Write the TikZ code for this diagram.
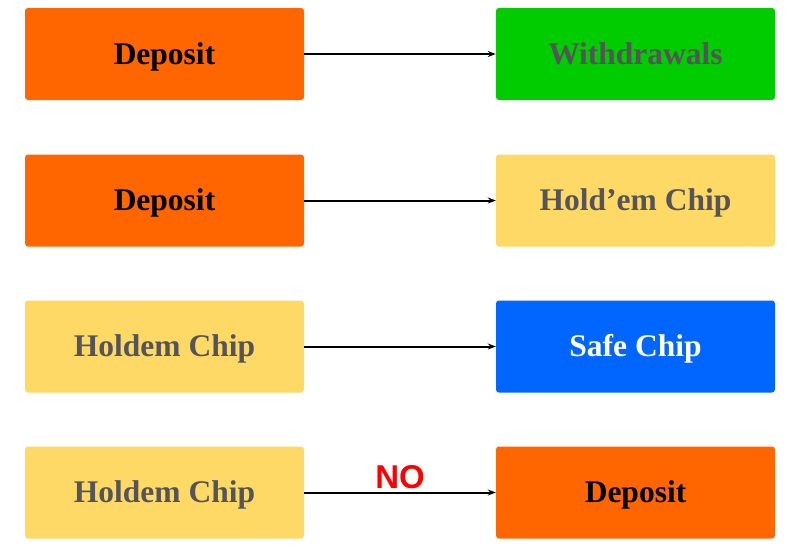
\documentclass[tikz,border=0pt]{standalone}
\usepackage{fontspec}
\setmainfont{Liberation Serif}
\newfontfamily\nofont{Liberation Sans}
\usetikzlibrary{arrows.meta}
\definecolor{depositorange}{HTML}{FF6600}
\definecolor{withdrawgreen}{HTML}{00CC00}
\definecolor{chipyellow}{HTML}{FFD966}
\definecolor{safeblue}{HTML}{0066FF}
\definecolor{labelgray}{HTML}{555559}
\begin{document}
\begin{tikzpicture}[x=1pt,y=-1pt,
    box/.style={rectangle, rounded corners=3pt, minimum width=279pt, minimum height=92pt,
                font=\fontsize{31.5}{36}\selectfont\bfseries, inner sep=0pt,
                text height=20pt, text depth=-3pt},
    flow/.style={-{Stealth[length=8pt,width=6pt]}, line width=2pt}]
                \useasboundingbox (0,0) rectangle (800,550);

                % Row 1
                \node[box, fill=depositorange, text=black] (dep1) at (164.5,54) {Deposit};
                \node[box, fill=withdrawgreen, text=labelgray] (wd) at (635.5,54) {Withdrawals};
                \draw[flow] (dep1) -- (wd);

                % Row 2
                \node[box, fill=depositorange, text=black] (dep2) at (164.5,200.5) {Deposit};
                \node[box, fill=chipyellow, text=labelgray] (hold1) at (635.5,200.5) {Hold’em Chip};
                \draw[flow] (dep2) -- (hold1);

                % Row 3
                \node[box, fill=chipyellow, text=labelgray] (hold2) at (164.5,346.5) {Holdem Chip};
                \node[box, fill=safeblue, text=white] (safe) at (635.5,346.5) {Safe Chip};
                \draw[flow] (hold2) -- (safe);

                % Row 4 (not allowed)
                \node[box, fill=chipyellow, text=labelgray] (hold3) at (164.5,492.5) {Holdem Chip};
                \node[box, fill=depositorange, text=black] (dep3) at (635.5,492.5) {Deposit};
                \draw[flow] (hold3) -- node[above=3pt, text=red, font=\nofont\fontsize{33}{36}\selectfont\bfseries, inner sep=0pt] (no) {NO} (dep3);
            \end{tikzpicture}
\end{document}
